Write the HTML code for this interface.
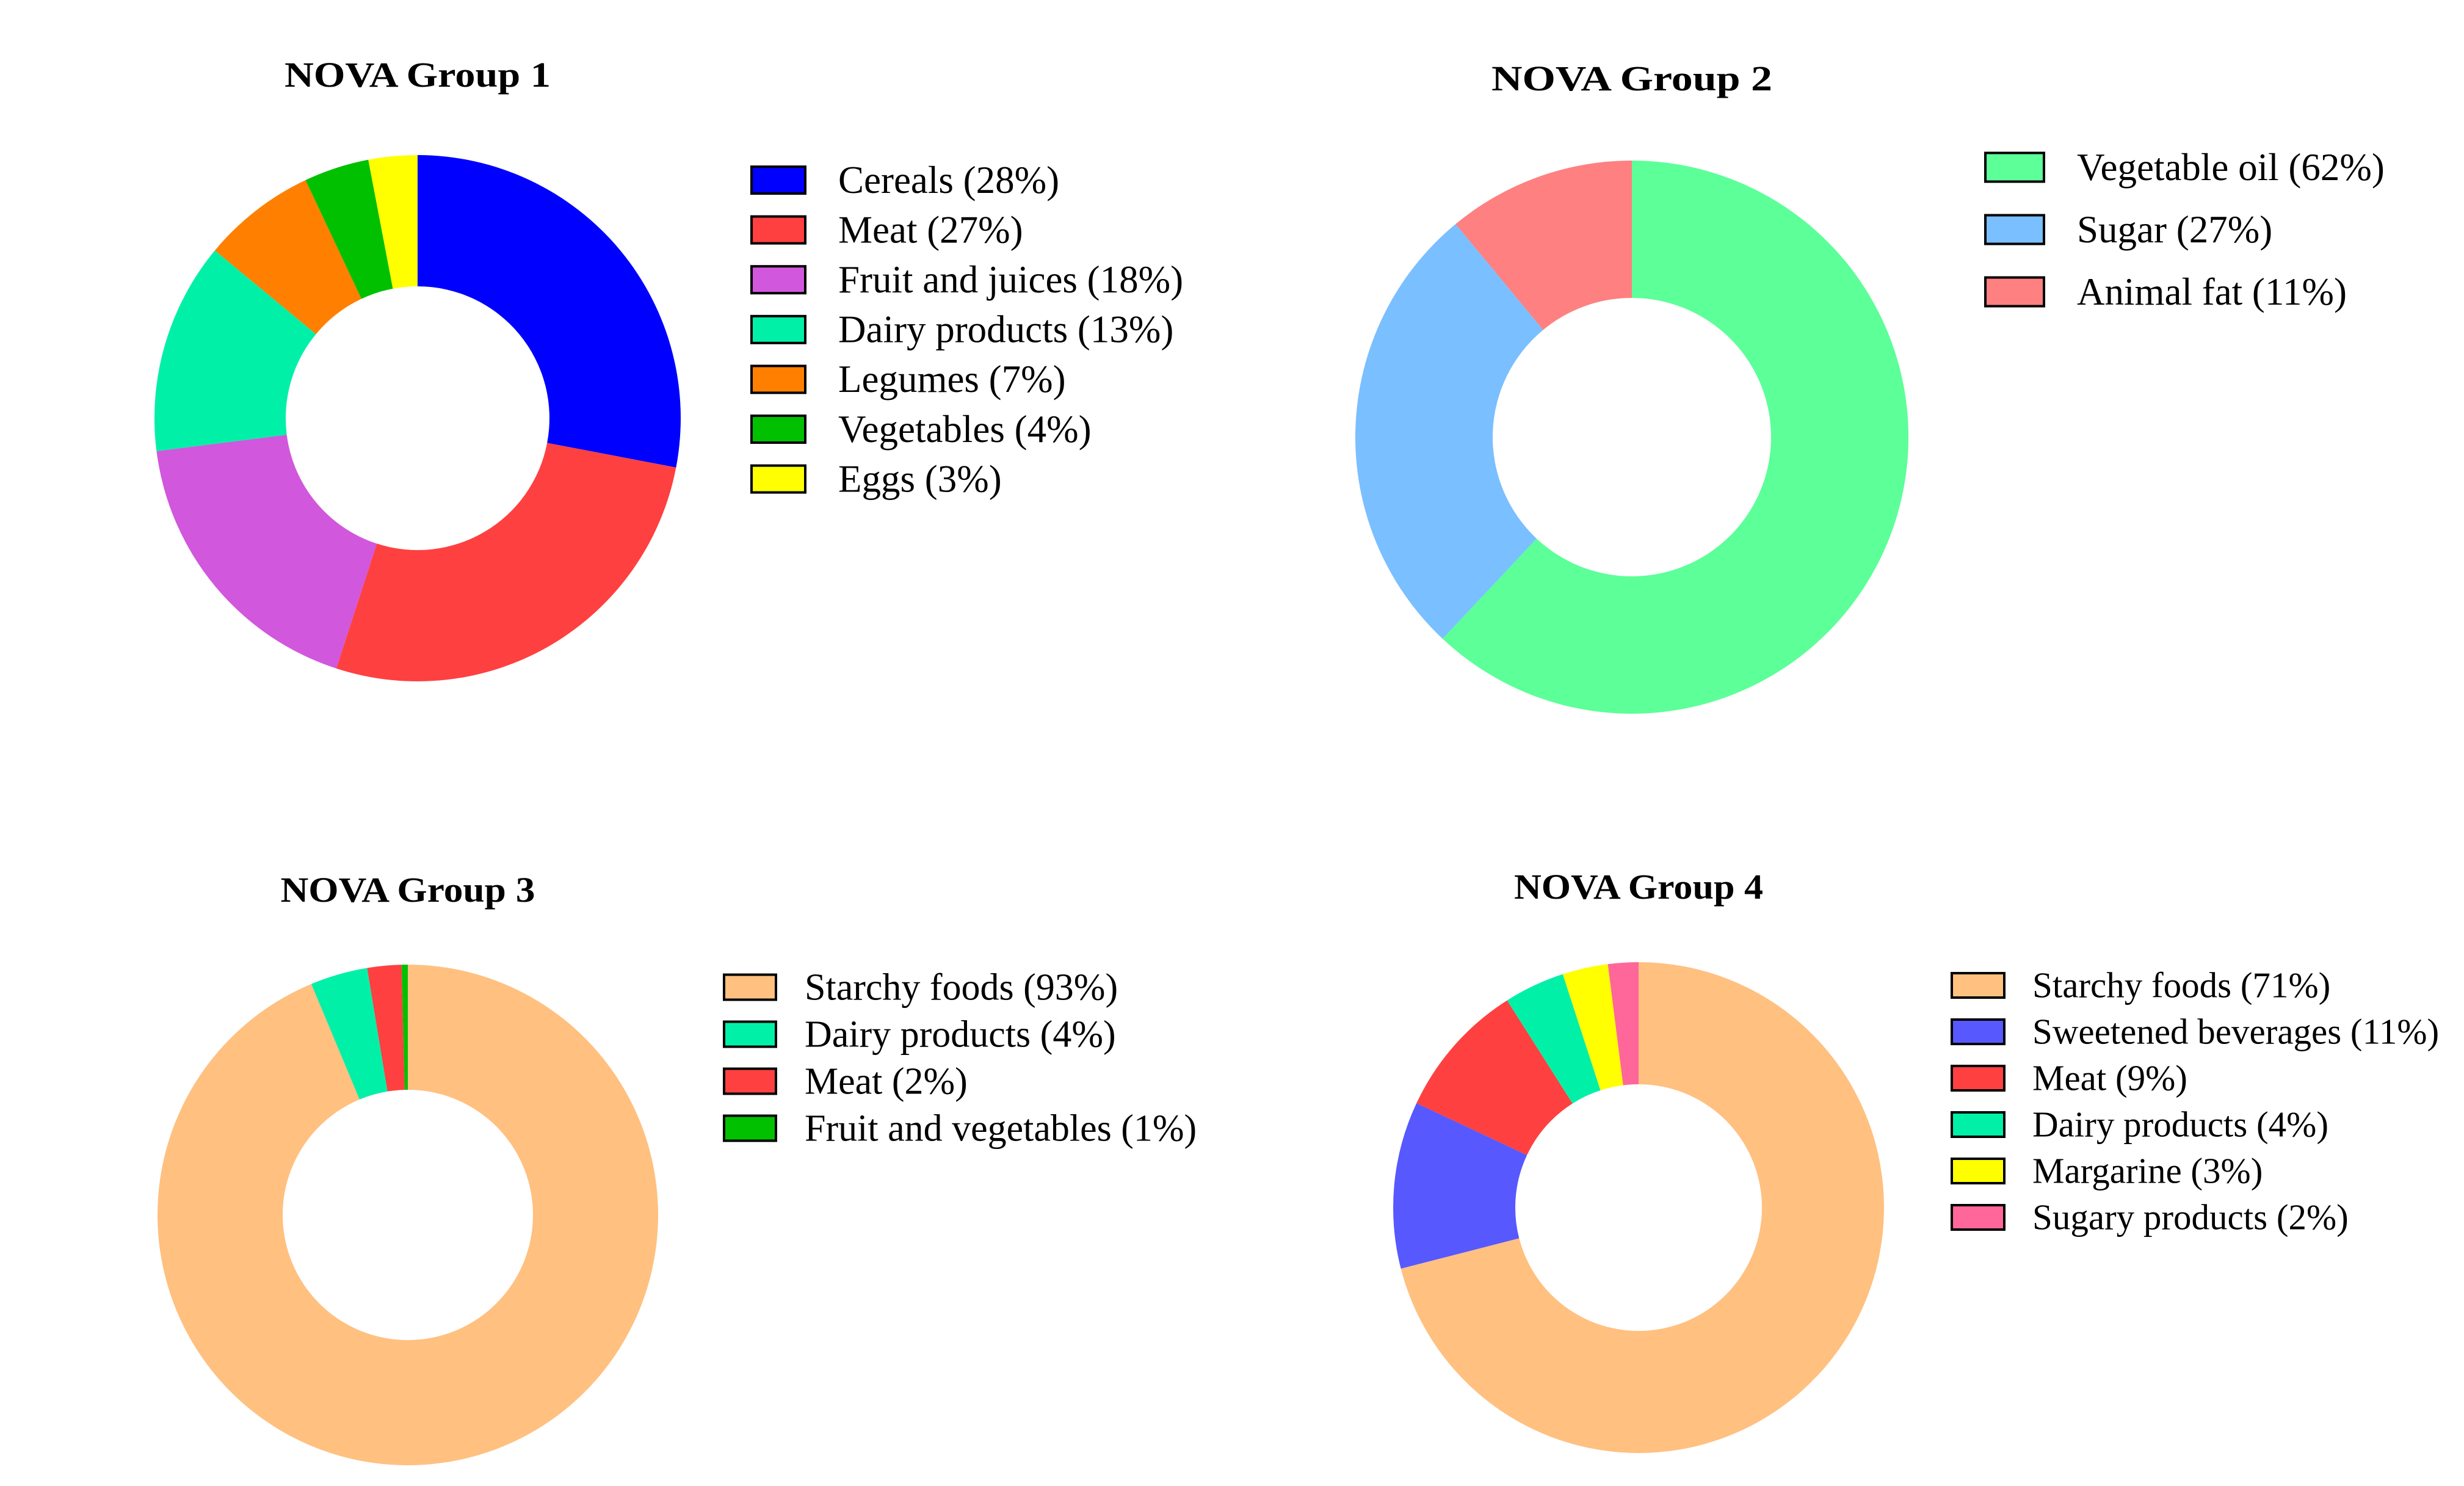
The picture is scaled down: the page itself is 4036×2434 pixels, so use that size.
<!DOCTYPE html>
<html><head><meta charset="utf-8"><style>
html,body{margin:0;padding:0;background:#fff;}
svg{display:block;}
text{font-family:"Liberation Serif",serif;fill:#000;}
.title{font-weight:bold;font-size:58px;}
</style></head><body>
<svg id="chart" width="4036" height="2434" viewBox="0 0 4036 2434" xmlns="http://www.w3.org/2000/svg"></svg>
<script>
// Data arrays
const titles = ["NOVA Group 1","NOVA Group 2","NOVA Group 3","NOVA Group 4"];
const g1Labels = ["Cereals (28%)","Meat (27%)","Fruit and juices (18%)","Dairy products (13%)","Legumes (7%)","Vegetables (4%)","Eggs (3%)"];
const g1Values = [28,27,18,13,7,4,3];
const g2Labels = ["Vegetable oil (62%)","Sugar (27%)","Animal fat (11%)"];
const g2Values = [62,27,11];
const g3Labels = ["Starchy foods (93%)","Dairy products (4%)","Meat (2%)","Fruit and vegetables (1%)"];
const g3Values = [93.7,3.7,2.2,0.4];
const g4Labels = ["Starchy foods (71%)","Sweetened beverages (11%)","Meat (9%)","Dairy products (4%)","Margarine (3%)","Sugary products (2%)"];
const g4Values = [71,11,9,4,3,2];

const g1Colors = ["#0000ff","#ff4040","#d157dc","#00f0a8","#ff8000","#00c000","#ffff00"];
const g2Colors = ["#5cff98","#7abfff","#ff8080"];
const g3Colors = ["#ffc080","#00f0a8","#ff4040","#00c000"];
const g4Colors = ["#ffc080","#5858ff","#ff4040","#00f0a8","#ffff00","#ff6699"];

const layouts = [
  {cx:684,cy:685,R:431,r:216,ty:122,tw:436,bx:1231,bw:88,bh:44,row0:295,dy:81.6,tx:1373,fs:63},
  {cx:2673,cy:716,R:453,r:228,ty:128,tw:460,bx:3252,bw:96,bh:47,row0:274,dy:102,tx:3402,fs:63},
  {cx:668,cy:1990,R:410,r:205,ty:1457,tw:417,bx:1186,bw:85,bh:41,row0:1617,dy:77,tx:1318,fs:62},
  {cx:2684,cy:1978,R:402,r:202,ty:1452,tw:408,bx:3197,bw:86,bh:40,row0:1614,dy:76,tx:3329,fs:59}
];
const groups = [[g1Labels,g1Values,g1Colors],[g2Labels,g2Values,g2Colors],[g3Labels,g3Values,g3Colors],[g4Labels,g4Values,g4Colors]];

const NS="http://www.w3.org/2000/svg";
const svg=document.getElementById('chart');
function mk(tag,attrs,parent){const e=document.createElementNS(NS,tag);for(const k in attrs)e.setAttribute(k,attrs[k]);parent.appendChild(e);return e;}
function pt(cx,cy,rad,ang){return [cx+rad*Math.sin(ang),cy-rad*Math.cos(ang)];}

groups.forEach((g,gi)=>{
  const [labels,values,colors]=g;const L=layouts[gi];
  const grp=mk('g',{},svg);
  
  
  const t=mk('text',{x:L.cx,y:L.ty+20,'text-anchor':'middle',class:'title',textLength:L.tw,lengthAdjust:'spacingAndGlyphs'},grp);
  t.textContent=titles[gi];
  
  
  const total=values.reduce((a,b)=>a+b,0);
  let a0=0;
  values.forEach((v,i)=>{
    const a1=a0+v/total*2*Math.PI;
    const [x0,y0]=pt(L.cx,L.cy,L.R,a0),[x1,y1]=pt(L.cx,L.cy,L.R,a1);
    const [x2,y2]=pt(L.cx,L.cy,L.r,a1),[x3,y3]=pt(L.cx,L.cy,L.r,a0);
    const large=(a1-a0)>Math.PI?1:0;
    const p=mk('path',{d:`M${x0},${y0}A${L.R},${L.R} 0 ${large} 1 ${x1},${y1}L${x2},${y2}A${L.r},${L.r} 0 ${large} 0 ${x3},${y3}Z`,fill:colors[i]},grp);
    
    
    a0=a1;
    const cy=L.row0+i*L.dy;
    const r=mk('rect',{x:L.bx,y:cy-L.bh/2,width:L.bw,height:L.bh,fill:colors[i],stroke:'#000','stroke-width':4},grp);
    
    
    const tx=mk('text',{x:L.tx,y:cy+L.fs*0.33,style:'font-size:'+L.fs+'px'},grp);
    tx.textContent=labels[i];
    
    
  });
});
</script>
</body></html>
